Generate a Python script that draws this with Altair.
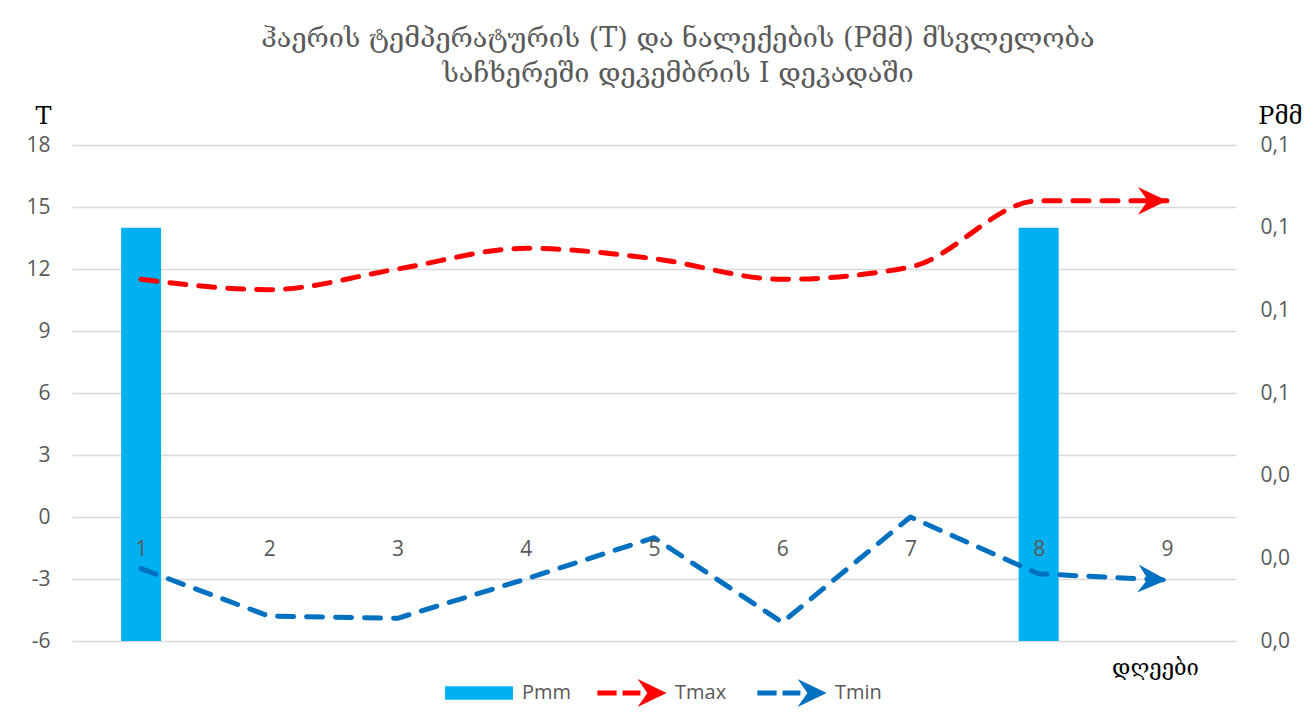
import altair as alt
import pandas as pd

# ---- data ----
days = [1, 2, 3, 4, 5, 6, 7, 8, 9]
tmax = [11.5, 11.0, 12.0, 13.0, 12.5, 11.5, 12.1, 15.3, 15.3]
tmin = [-2.5, -4.8, -4.9, -3.0, -1.0, -5.1, 0.0, -2.75, -3.05]
pmm_days = [1, 8]
pmm = [0.1, 0.1]
p_series = ["Pmm"]
p_colors = ["#00B0F0"]
t_series = ["Tmax", "Tmin"]
t_colors = ["#FF0000", "#0070C0"]
t_ticks = [-6, -3, 0, 3, 6, 9, 12, 15, 18]
p_ticks = [0, 0.02, 0.04, 0.06, 0.08, 0.10, 0.12]
title_lines = [
    "ჰაერის ტემპერატურის (T) და ნალექების (Pმმ) მსვლელობა",
    "საჩხერეში დეკემბრის I დეკადაში",
]
x_title = "დღეები"
t_title = "T"
p_title = "Pმმ"

tmax_df = pd.DataFrame({"day": days, "T": tmax, "series": ["Tmax"] * len(days)})
tmin_df = pd.DataFrame({"day": days, "T": tmin, "series": ["Tmin"] * len(days)})
p_df = pd.DataFrame({"day": pmm_days, "P": pmm, "series": ["Pmm"] * len(pmm_days)})

LABEL_FONT = "Open Sans"
SERIF = "DejaVu Serif"
GREY = "#595959"
LFS = 21

ARROW = "M0,0L-1,-0.48L-0.66,0L-1,0.48Z"
LEG_RECT = "M-0.97,-0.19H0.97V0.19H-0.97Z"
LEG_ARROW = ("M-0.99,-0.07H-0.44V0.07H-0.99Z"
             "M-0.27,-0.07H0.24V0.07H-0.27Z"
             "M0.99,0L0.16,-0.4L0.44,0L0.16,0.4Z")


def make_legend(symbol, lx):
    return alt.Legend(
        title=None, orient="none", legendX=lx, legendY=513, direction="horizontal",
        symbolSize=4900, symbolStrokeWidth=0, symbolType=symbol, symbolOpacity=1,
        labelFont=LABEL_FONT, labelFontSize=20, labelColor=GREY, labelOffset=8,
        columnPadding=30, padding=0,
    )


x_enc = alt.X(
    "day:Q",
    scale=alt.Scale(domain=[0.5, 9.5], nice=False, zero=False),
    axis=alt.Axis(
        values=days, offset=-124, domain=False, ticks=False, tickSize=0, grid=False,
        labelFont=LABEL_FONT, labelFontSize=LFS, labelColor=GREY,
        labelBaseline="middle", labelPadding=32, zindex=2,
        title=x_title, titleFont=SERIF, titleFontSize=22, titleFontWeight="normal",
        titleColor="black", titleX=1083, titleY=150, titleAlign="center",
        titleBaseline="middle",
    ),
)

bars = alt.Chart(p_df).mark_bar(size=40).encode(
    x=x_enc,
    y=alt.Y(
        "P:Q",
        scale=alt.Scale(domain=[0, 0.12], nice=False, zero=True),
        axis=alt.Axis(
            orient="right", values=p_ticks,
            labelExpr="replace(format(datum.value, '.1f'), '.', ',')",
            grid=False, domain=False, ticks=False, tickSize=0, labelPadding=24,
            labelFont=LABEL_FONT, labelFontSize=LFS, labelColor=GREY,
            title=p_title, titleAngle=0, titleX=44, titleY=-29, titleAlign="center",
            titleBaseline="middle", titleFont=SERIF, titleFontSize=24,
            titleFontWeight="normal", titleColor="black",
        ),
    ),
    color=alt.Color("series:N", scale=alt.Scale(domain=p_series, range=p_colors),
                    legend=make_legend(LEG_RECT, 372)),
)

y_t = alt.Y(
    "T:Q",
    scale=alt.Scale(domain=[-6, 18], nice=False, zero=False),
    axis=alt.Axis(
        orient="left", values=t_ticks, labelExpr="'' + datum.value",
        grid=True, gridColor="#D9D9D9", gridWidth=1.3, domain=False, ticks=False,
        tickSize=0, labelPadding=22, labelFont=LABEL_FONT, labelFontSize=LFS,
        labelColor=GREY, title=t_title, titleAngle=0, titleX=-29, titleY=-29,
        titleAlign="center", titleBaseline="middle", titleFont=SERIF,
        titleFontSize=24, titleFontWeight="normal", titleColor="black",
    ),
)

fill = alt.Fill("series:N", scale=alt.Scale(domain=t_series, range=t_colors),
                legend=make_legend(LEG_ARROW, 525))

line_style = dict(strokeWidth=5, strokeDash=[16, 13], strokeCap="round", strokeJoin="round")

line_max = alt.Chart(tmax_df).mark_line(
    interpolate="monotone", color=t_colors[0], **line_style
).encode(x=x_enc, y=y_t)

line_min = alt.Chart(tmin_df).mark_line(
    interpolate="linear", color=t_colors[1], **line_style
).encode(x=x_enc, y=y_t)

arrow_max = alt.Chart(tmax_df).transform_filter(alt.datum.day == days[-1]).mark_point(
    shape=ARROW, filled=True, size=3364, opacity=1, strokeWidth=0, angle=0
).encode(x=x_enc, y=y_t, fill=fill)

arrow_min = alt.Chart(tmin_df).transform_filter(alt.datum.day == days[-1]).mark_point(
    shape=ARROW, filled=True, size=3364, opacity=1, strokeWidth=0, angle=3
).encode(x=x_enc, y=y_t, fill=fill)

temps = alt.layer(line_max, line_min, arrow_max, arrow_min)

chart = alt.layer(bars, temps).resolve_scale(y="independent").properties(
    width=1164,
    height=496,
    autosize=alt.AutoSizeParams(type="none"),
    padding={"left": 64, "top": 137, "right": 70, "bottom": 77},
    title=alt.TitleParams(
        text=title_lines, font=SERIF, fontSize=27, fontWeight="normal", color=GREY,
        anchor="middle", dx=24, offset=16, lineHeight=35,
    ),
).configure(background="white", view=alt.ViewConfig(stroke=None))

chart.save("out.html", embed_options={"renderer": "svg", "actions": False})
